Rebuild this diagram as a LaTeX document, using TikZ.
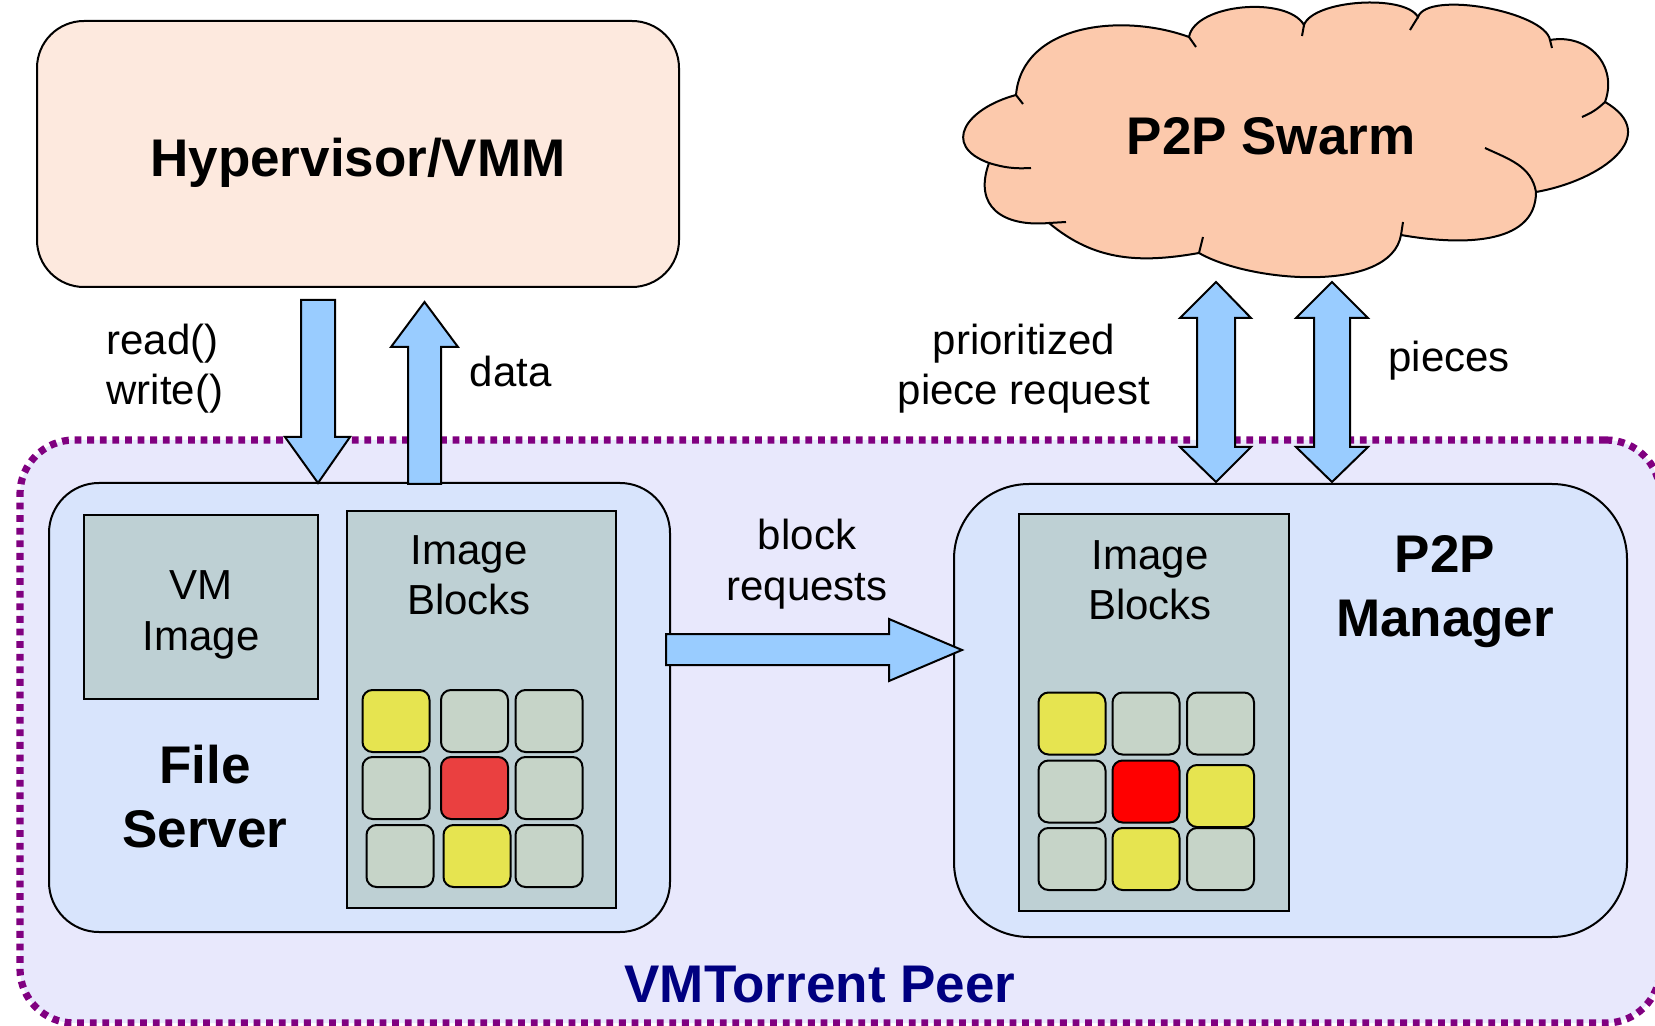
\documentclass[tikz,border=0pt]{standalone}
\usepackage{fontspec}
\setmainfont{Liberation Sans}
\definecolor{hypfill}{RGB}{253,233,222}
\definecolor{cloudfill}{RGB}{252,201,172}
\definecolor{peerfill}{RGB}{232,232,252}
\definecolor{peerline}{RGB}{128,0,128}
\definecolor{boxfill}{RGB}{216,228,252}
\definecolor{imgfill}{RGB}{190,208,212}
\definecolor{greyb}{RGB}{198,212,200}
\definecolor{yellowb}{RGB}{230,228,80}
\definecolor{redA}{RGB}{234,64,64}
\definecolor{redB}{RGB}{255,0,0}
\definecolor{arrowfill}{RGB}{153,204,255}
\definecolor{navyc}{RGB}{0,0,128}
\begin{document}
\begin{tikzpicture}[x=0.5pt,y=-0.5pt,
  lbl/.style={anchor=base, inner sep=0pt, font=\fontsize{21}{25}\selectfont},
  blbl/.style={anchor=base, inner sep=0pt, font=\fontsize{26.5}{31}\selectfont\bfseries},
  box/.style={draw=black, line width=1pt, rectangle, inner sep=0pt},
  blk/.style={draw=black, line width=1pt, rounded corners=5pt, minimum width=33.5pt, minimum height=31pt, inner sep=0pt},
  barrow/.style={draw=black, line width=1pt, fill=arrowfill, line join=miter},
  cloudline/.style={draw=black, line width=1pt}
]
\useasboundingbox (0,0) rectangle (1655,1026);

% VMTorrent peer container
\node[box, fill=peerfill, draw=peerline, line width=3.6pt, dash pattern=on 3.4pt off 2.9pt,
      rounded corners=27pt, minimum width=820pt, minimum height=291.5pt] (peer) at (840,731.5) {};

% main boxes
\node[box, fill=boxfill, rounded corners=25pt, minimum width=310.5pt, minimum height=224.5pt] (fs) at (359.5,707.5) {};
\node[box, fill=boxfill, rounded corners=37.5pt, minimum width=336.5pt, minimum height=226.5pt] (pm) at (1290.5,710.5) {};
\node[box, fill=imgfill, minimum width=117pt, minimum height=92pt] (vmimg) at (201,607) {};
\node[box, fill=imgfill, minimum width=134.5pt, minimum height=198.5pt] (ibL) at (481.5,709.5) {};
\node[box, fill=imgfill, minimum width=135pt, minimum height=198.5pt] (ibR) at (1154,712.5) {};
\node[box, fill=hypfill, rounded corners=23.5pt, minimum width=321pt, minimum height=133pt] (hyp) at (358,154) {};

% blocks (left)
\node[blk, fill=yellowb] (bL11) at (396,721) {};
\node[blk, fill=greyb]   (bL12) at (474.5,721) {};
\node[blk, fill=greyb]   (bL13) at (549,721) {};
\node[blk, fill=greyb]   (bL21) at (396,788) {};
\node[blk, fill=redA]    (bL22) at (474.5,788) {};
\node[blk, fill=greyb]   (bL23) at (549,788) {};
\node[blk, fill=greyb]   (bL31) at (400,856) {};
\node[blk, fill=yellowb] (bL32) at (477,856) {};
\node[blk, fill=greyb]   (bL33) at (549,856) {};
% blocks (right)
\node[blk, fill=yellowb] (bR11) at (1072,723.5) {};
\node[blk, fill=greyb]   (bR12) at (1146,723.5) {};
\node[blk, fill=greyb]   (bR13) at (1220.5,723.5) {};
\node[blk, fill=greyb]   (bR21) at (1072,791.5) {};
\node[blk, fill=redB]    (bR22) at (1146,791.5) {};
\node[blk, fill=yellowb] (bR23) at (1220.5,796) {};
\node[blk, fill=greyb]   (bR31) at (1072,859) {};
\node[blk, fill=yellowb] (bR32) at (1146,859) {};
\node[blk, fill=greyb]   (bR33) at (1220.5,859) {};

% cloud
\draw[cloudline, fill=cloudfill]
  (1049,223) to[out=185,in=250,looseness=1.4] (989,163)
  to[out=160,in=195,looseness=1.8] (1016,95)
  to[out=85,in=160] (1189,37)
  to[out=80,in=120,looseness=0.75] (1304,25)
  to[out=70,in=120,looseness=0.6] (1418,17)
  to[out=70,in=100,looseness=0.55] (1550,40)
  to[out=10,in=70,looseness=1.2] (1605,102)
  to[out=-30,in=10,looseness=1.5] (1536,192)
  to[out=-90,in=-10] (1401,235)
  to[out=-100,in=-30,looseness=0.75] (1199,253)
  to[out=190,in=-40] (1049,223) -- cycle;
\draw[cloudline] (989,163) to[bend right=10] (1031,168);
\draw[cloudline] (1016,95) to (1023,104);
\draw[cloudline] (1189,37) to (1196,47);
\draw[cloudline] (1304,25) to (1302,36);
\draw[cloudline] (1418,17) to (1410,30);
\draw[cloudline] (1550,40) to (1552,48);
\draw[cloudline] (1605,102) to[bend left=10] (1582,117);
\draw[cloudline] (1536,192) to[out=100,in=-25] (1485,148);
\draw[cloudline] (1401,235) to (1403,222);
\draw[cloudline] (1199,253) to (1203,237);
\draw[cloudline] (1049,223) to (1066,222);

% block arrows
\draw[barrow] (301,300) -- (335,300) -- (335,437) -- (350,437) -- (318,483) -- (285,437) -- (301,437) -- cycle;
\draw[barrow] (408,484) -- (441,484) -- (441,347) -- (458,347) -- (424.5,302) -- (391,347) -- (408,347) -- cycle;
\draw[barrow] (1216,282) -- (1251,318) -- (1235,318) -- (1235,447) -- (1251,447) -- (1216,482)
  -- (1180,447) -- (1197,447) -- (1197,318) -- (1180,318) -- cycle;
\draw[barrow] (1332,282) -- (1368,318) -- (1350,318) -- (1350,447) -- (1368,447) -- (1332,482)
  -- (1296,447) -- (1314,447) -- (1314,318) -- (1296,318) -- cycle;
\draw[barrow] (666,634) -- (889,634) -- (889,619) -- (962,650) -- (889,681) -- (889,665) -- (666,665) -- cycle;

% texts
\node[blbl] (thyp) at (358,177) {Hypervisor/VMM};
\node[blbl] (tswarm) at (1271,155) {P2P Swarm};
\node[lbl, anchor=base west] (trw1) at (106,355) {read()};
\node[lbl, anchor=base west] (trw2) at (106,405) {write()};
\node[lbl, anchor=base west] (tdata) at (469.5,387) {data};
\node[lbl] (tpri1) at (1024,355) {prioritized};
\node[lbl] (tpri2) at (1024,405) {piece request};
\node[lbl, anchor=base west] (tpieces) at (1388,372) {pieces};
\node[lbl] (tblk1) at (807,549) {block};
\node[lbl] (tblk2) at (807,600) {requests};
\node[lbl] (tvm1) at (201,599) {VM};
\node[lbl] (tvm2) at (201,650) {Image};
\node[lbl] (tibl1) at (469,564) {Image};
\node[lbl] (tibl2) at (469,614) {Blocks};
\node[lbl] (tibr1) at (1150,569) {Image};
\node[lbl] (tibr2) at (1150,619) {Blocks};
\node[blbl] (tfs1) at (205,783) {File};
\node[blbl] (tfs2) at (205,847) {Server};
\node[blbl] (tpm1) at (1445,573) {P2P};
\node[blbl] (tpm2) at (1445,636) {Manager};
\node[blbl, text=navyc] (tpeer) at (820,1002) {VMTorrent Peer};
\end{tikzpicture}
\end{document}
